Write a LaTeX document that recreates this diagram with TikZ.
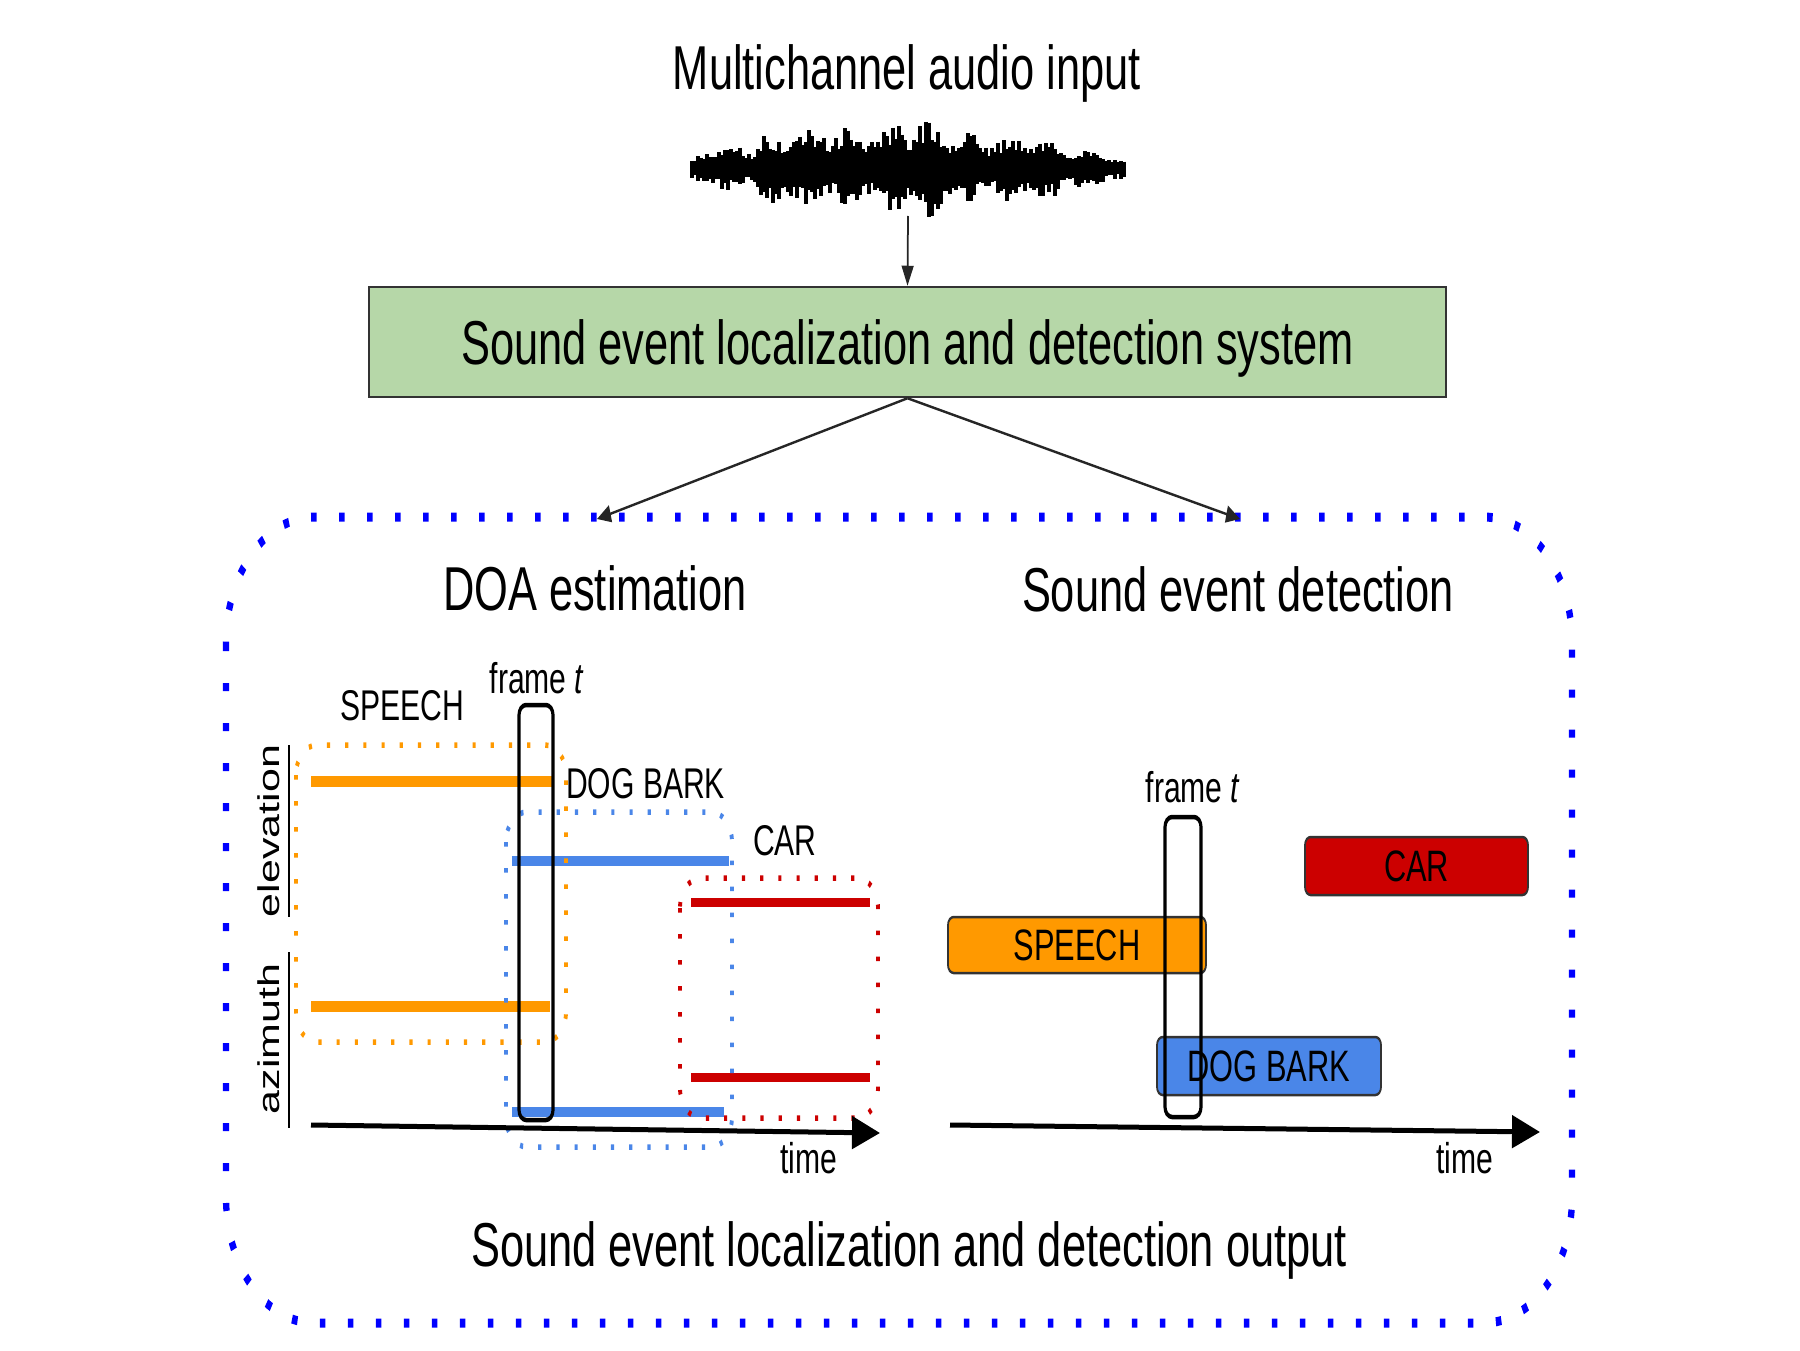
\documentclass[tikz,border=0pt]{standalone}
\usepackage{fontspec}
\setmainfont{Liberation Sans}
\usetikzlibrary{arrows.meta}
\definecolor{boxgreen}{HTML}{B6D7A8}
\definecolor{sorange}{HTML}{FF9900}
\definecolor{sblue}{HTML}{4A86E8}
\definecolor{sred}{HTML}{CC0000}
\definecolor{cblue}{HTML}{0000FF}
\definecolor{edgegray}{HTML}{333333}
\tikzset{
  big/.style={font=\fontsize{62}{70}\selectfont, inner sep=0pt},
  lab/.style={font=\fontsize{43}{50}\selectfont, inner sep=0pt},
  track/.style={line width=10pt},
  dotbox/.style={line width=5.5pt, dash pattern=on 4.5pt off 21.5pt, rounded corners=30pt},
  framebox/.style={draw=black, line width=4.5pt, rounded corners=10pt},
  evbox/.style={draw=edgegray, line width=2.5pt, rounded corners=8pt, inner sep=0pt, font=\fontsize{44}{50}\selectfont},
  axisarrow/.style={line width=5pt, -{Triangle[length=40pt,width=32pt]}},
  thinarrow/.style={line width=2.5pt, draw=black!85, -{Triangle[length=20pt,width=17pt]}},
}
\begin{document}
\begin{tikzpicture}[x=1pt,y=-1pt]
\path[use as bounding box, fill=white] (0,0) rectangle (1800,1351);
\begin{scope}[transform canvas={xscale=0.7}, x=1.4285714pt, y=-1pt]
% waveform
\pgfmathsetseed{5}
\foreach \xx in {692,695,...,1124}{
  \pgfmathsetmacro{\e}{(24+(\xx>755)*12+(\xx>790)*6+(\xx>895)*9-(\xx>945)*9-(\xx>975)*8-(\xx>1040)*(\xx-1040)*0.26)*(0.85+0.15*sin(\xx*9))*min(1,(\xx-684)/18)}
  \pgfmathsetmacro{\ta}{\e*(0.5+0.5*rnd^1.5)}
  \pgfmathsetmacro{\tb}{\e*(0.5+0.5*rnd^1.5)}
  \draw[line width=4.5pt] (\xx,168-\ta) -- (\xx,168+\tb);
}
\node[big, anchor=base] (title) at (907,90) {Multichannel audio input};
\coordinate (wavebot) at (908,216);
\node[draw=edgegray, line width=2.5pt, fill=boxgreen, minimum width=1538pt, minimum height=110pt, big, text height=44pt, text depth=0pt] (sys) at (907.5,342) {Sound event localization and detection system};
\draw[thinarrow] (wavebot) -- (sys.north);
% container
\draw[cblue, line width=9pt, dash pattern=on 8pt off 32pt, rounded corners=126pt] (226,517) rectangle (1572,1323);
\coordinate (doatop) at (597,519);
\coordinate (sedtop) at (1240,519);
\draw[thinarrow] (sys.south) -- (doatop);
\draw[thinarrow] (sys.south) -- (sedtop);
\node[big, anchor=base] (doah) at (595,610) {DOA estimation};
\node[big, anchor=base] (sedh) at (1238,611) {Sound event detection};
\node[big, anchor=base] (outh) at (909,1266) {Sound event localization and detection output};
% DOA plot
\draw[line width=4pt] (289,745) -- (289,917);
\draw[line width=4pt] (289,952) -- (289,1128);
\node[lab, anchor=base, rotate=90] (elev) at (279,831) {elevation};
\node[lab, anchor=base, rotate=90] (azim) at (279,1039) {azimuth};
\draw[track, sorange, line width=11pt] (311,781) -- (553,781);
\draw[track, sorange, line width=11pt] (311,1006) -- (550,1006);
\draw[track, sblue] (512,861) -- (729,861);
\draw[track, sblue] (512,1112) -- (724,1112);
\draw[track, sred, line width=9pt] (691,902) -- (870,902);
\draw[track, sred, line width=9pt] (691,1077) -- (870,1077);
\draw[dotbox, sorange] (296,745) rectangle (566,1042);
\draw[dotbox, sblue] (506,812) rectangle (732,1147);
\draw[dotbox, sred] (680,878) rectangle (878,1118);
\draw[framebox] (519,705) rectangle (553,1120);
\draw[axisarrow] (311,1125) -- (880,1133);
\node[lab, anchor=base] (speechl) at (402,720) {SPEECH};
\node[lab, anchor=base] (frameA) at (537,693) {frame \textit{t}};
\node[lab, anchor=base west] (dogl) at (566,798) {DOG BARK};
\node[lab, anchor=base west] (carl) at (753,855) {CAR};
\node[lab, anchor=base] (timeA) at (809,1173) {time};
% SED plot
\node[evbox, fill=sorange, minimum width=368.6pt, minimum height=56pt] (speechb) at (1077,945) {SPEECH};
\node[evbox, fill=sred, minimum width=318.6pt, minimum height=58pt] (carb) at (1416.5,866) {CAR};
\node[evbox, fill=sblue, minimum width=320pt, minimum height=58pt] (dogb) at (1269,1066) {DOG BARK};
\draw[framebox] (1165,817) rectangle (1201,1117);
\draw[axisarrow] (950,1125) -- (1540,1132);
\node[lab, anchor=base] (frameB) at (1193,802) {frame \textit{t}};
\node[lab, anchor=base] (timeB) at (1465,1173) {time};
\end{scope}
\end{tikzpicture}
\end{document}
